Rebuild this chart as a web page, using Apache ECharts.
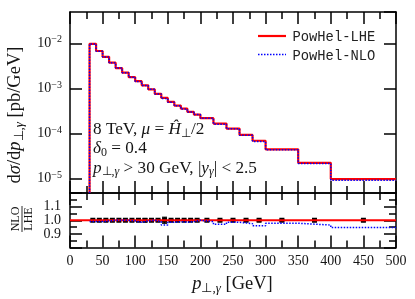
<!DOCTYPE html>
<html><head><meta charset="utf-8">
<script src="https://cdn.jsdelivr.net/npm/echarts@6/dist/echarts.min.js"></script>
<style>html,body{margin:0;padding:0;background:#fff}#c{width:415px;height:299px}</style>
</head><body><div id="c"></div>
<script>
// ---- data ----
const binEdges = [30,40,50,60,70,80,90,100,110,120,130,140,150,160,170,180,190,200,220,240,260,280,300,350,400,500];
const lheValues = [9.77e-3,6.76e-3,5.01e-3,3.72e-3,2.82e-3,2.24e-3,1.78e-3,1.45e-3,1.17e-3,9.55e-4,7.59e-4,6.17e-4,5.01e-4,4.17e-4,3.55e-4,3.02e-4,2.63e-4,2.19e-4,1.66e-4,1.29e-4,9.33e-5,6.92e-5,4.47e-5,2.24e-5,9.77e-6];
const nloValues = [9.67e-3,6.69e-3,4.98e-3,3.72e-3,2.82e-3,2.24e-3,1.77e-3,1.43e-3,1.16e-3,9.55e-4,7.51e-4,5.95e-4,4.93e-4,4.13e-4,3.50e-4,2.99e-4,2.63e-4,2.17e-4,1.61e-4,1.27e-4,9.10e-5,6.64e-5,4.37e-5,2.16e-5,9.25e-6];
const ratioNLO = [0.99,0.99,0.995,1.0,1.0,1.0,0.995,0.985,0.995,1.0,0.99,0.965,0.985,0.99,0.985,0.99,1.0,0.99,0.97,0.985,0.975,0.96,0.978,0.965,0.947];
const pointCenters = [35,45,55,65,75,85,95,105,115,125,135,145,155,165,175,185,195,210,230,250,270,290,325,375,450];
const pointValues = [1,1,1,1,1,1,1,1,1,1,1,1,1,1,1,1,1,1,1,1,1,1,1,1,1];
const pointErrors = [0.003,0.003,0.003,0.003,0.003,0.003,0.003,0.004,0.012,0.004,0.004,0.022,0.004,0.004,0.004,0.004,0.004,0.004,0.004,0.004,0.005,0.006,0.006,0.007,0.007];
const xTicks = [0,50,100,150,200,250,300,350,400,450,500];
const ratioTicks = [0.9,1.0,1.1];
const legendNames = ['PowHel-LHE', 'PowHel-NLO'];
const yLogMin = 4.8e-6, yLogMax = 0.0495;

// ---- helpers ----
function stepData(edges, vals, base) {
  const d = base !== undefined ? [[edges[0], base]] : [];
  vals.forEach((v, i) => d.push([edges[i], v]));
  d.push([edges[edges.length - 1], vals[vals.length - 1]]);
  return d;
}
const SERIF = 'Liberation Serif';
const TXT = '#151515';
const lineW = 1.5;
const RED = '#ff0000', BLUE = '#0000ff';
function frameX(grid, pos, labels) {
  return {
    type: 'value', gridIndex: grid, position: pos, min: 0, max: 500, interval: 50,
    axisLine: {show: true, onZero: false, lineStyle: {color: '#000', width: lineW}},
    axisTick: {show: true, inside: true, length: 12, lineStyle: {color: '#000', width: lineW}},
    minorTick: {show: true, splitNumber: 2, length: 7, lineStyle: {color: '#000', width: lineW}},
    splitLine: {show: false}, minorSplitLine: {show: false},
    axisLabel: labels ? {show: true, margin: 7, fontFamily: SERIF, fontSize: 14, color: TXT,
      formatter: v => xTicks.indexOf(v) >= 0 ? String(v) : ''} : {show: false}
  };
}
const supRich = {
  b: {fontFamily: SERIF, fontSize: 14, color: TXT, lineHeight: 17},
  s: {fontFamily: SERIF, fontSize: 10, color: TXT, verticalAlign: 'top', lineHeight: 10}
};
function logY(pos, labels) {
  return {
    type: 'log', gridIndex: 0, position: pos, min: yLogMin, max: yLogMax, logBase: 10,
    axisLine: {show: true, onZero: false, lineStyle: {color: '#000', width: lineW}},
    axisTick: {show: true, inside: true, length: 12, lineStyle: {color: '#000', width: lineW}},
    minorTick: {show: false}, splitLine: {show: false},
    axisLabel: labels ? {show: true, margin: 8, showMinLabel: false, showMaxLabel: false,
      formatter: v => {
        const e = Math.log10(v), r = Math.round(e);
        if (Math.abs(e - r) > 1e-6) return '';
        return '{b|10}{s|' + (r < 0 ? '\u2212' : '') + Math.abs(r) + '}';
      }, rich: supRich} : {show: false}
  };
}
function ratioY(pos, labels) {
  return {
    type: 'value', gridIndex: 1, position: pos, min: 0.8, max: 1.2, interval: 0.1,
    axisLine: {show: true, onZero: false, lineStyle: {color: '#000', width: lineW}},
    axisTick: {show: true, inside: true, length: 12, lineStyle: {color: '#000', width: lineW}},
    minorTick: {show: true, splitNumber: 2, length: 7, lineStyle: {color: '#000', width: lineW}},
    splitLine: {show: false}, minorSplitLine: {show: false},
    axisLabel: labels ? {show: true, margin: 9, fontFamily: SERIF, fontSize: 14, color: TXT,
      showMinLabel: false, showMaxLabel: false,
      formatter: v => ratioTicks.some(t => Math.abs(t - v) < 1e-6) ? v.toFixed(1) : ''} : {show: false}
  };
}

const chart = echarts.init(document.getElementById('c'), null, {renderer: 'canvas'});
function makeRich(fs) {
  const sfs = Math.round(fs * 0.7 * 2) / 2;
  return {
    i: {fontFamily: SERIF, fontStyle: 'italic', fontSize: fs, color: TXT, lineHeight: fs + 3},
    sub: {fontFamily: SERIF, fontSize: sfs, color: TXT, verticalAlign: 'bottom', lineHeight: sfs},
    isub: {fontFamily: SERIF, fontStyle: 'italic', fontSize: sfs, color: TXT, verticalAlign: 'bottom', lineHeight: sfs}
  };
}
function txt(x, y, text, fs, align, rot) {
  return {type: 'text', x: x, y: y, rotation: rot || 0, silent: true,
    style: {text: text, fontFamily: SERIF, fontSize: fs, fill: TXT, lineHeight: fs + 3,
      align: align || 'left', verticalAlign: 'middle', rich: makeRich(fs)}};
}
function legendItem(i, y) {
  const s = i === 0 ? {stroke: RED, lineWidth: 2.2} : {stroke: BLUE, lineWidth: 1.5, lineDash: [1.5, 1.5]};
  return [
    {type: 'line', silent: true, shape: {x1: 258, y1: y, x2: 286, y2: y}, style: s},
    {type: 'text', x: 292.5, y: y + 1.5, silent: true, style: {text: legendNames[i], fontFamily: 'Liberation Mono', fontSize: 13.8, fill: '#222', align: 'left', verticalAlign: 'middle'}}
  ];
}
const ANN = 17.2, TITLE = 18.5;

chart.setOption({
  animation: false,
  backgroundColor: '#fff',
  grid: [
    {left: 70, right: 19, top: 12, height: 181},
    {left: 70, right: 19, top: 193, height: 54.5}
  ],
  xAxis: [frameX(0, 'bottom', false), frameX(0, 'top', false), frameX(1, 'bottom', true), frameX(1, 'top', false)],
  yAxis: [logY('left', true), logY('right', false), ratioY('left', true), ratioY('right', false)],
  series: [
    {name: legendNames[0], type: 'line', xAxisIndex: 0, yAxisIndex: 0, step: 'end', symbol: 'none',
      data: stepData(binEdges, lheValues, yLogMin), lineStyle: {color: RED, width: 2.2}, itemStyle: {color: RED}},
    {name: legendNames[1], type: 'line', xAxisIndex: 0, yAxisIndex: 0, step: 'end', symbol: 'none',
      data: stepData(binEdges, nloValues, yLogMin), lineStyle: {color: BLUE, width: 1.5, type: [1.5, 1.5]}, itemStyle: {color: BLUE}},
    {name: 'ratio-LHE', type: 'line', xAxisIndex: 2, yAxisIndex: 2, symbol: 'none',
      data: [[0, 1], [500, 1]], lineStyle: {color: RED, width: 2}},
    {name: 'ratio-NLO', type: 'line', xAxisIndex: 2, yAxisIndex: 2, step: 'end', symbol: 'none',
      data: stepData(binEdges, ratioNLO), lineStyle: {color: BLUE, width: 1.5, type: [1.5, 1.5]}},
    {name: 'points', type: 'custom', xAxisIndex: 2, yAxisIndex: 2,
      data: pointCenters.map((x, i) => [x, pointValues[i], pointErrors[i]]),
      renderItem: (params, api) => {
        const x = api.value(0), y = api.value(1), e = api.value(2);
        const p = api.coord([x, y]), hi = api.coord([x, y + e]), lo = api.coord([x, y - e]);
        return {type: 'group', children: [
          {type: 'line', shape: {x1: p[0], y1: hi[1], x2: p[0], y2: lo[1]}, style: {stroke: '#000', lineWidth: 1.5}},
          {type: 'line', shape: {x1: p[0] - 2.5, y1: hi[1], x2: p[0] + 2.5, y2: hi[1]}, style: {stroke: '#000', lineWidth: 1.2}},
          {type: 'line', shape: {x1: p[0] - 2.5, y1: lo[1], x2: p[0] + 2.5, y2: lo[1]}, style: {stroke: '#000', lineWidth: 1.2}},
          {type: 'rect', shape: {x: p[0] - 2.5, y: p[1] - 2.5, width: 5, height: 5}, style: {fill: '#000'}}
        ]};
      }}
  ],
  graphic: [
    txt(93, 129.5, '8 TeV, {i|\u03bc} = {i|\u0124}{sub|\u22a5}/2', ANN),
    txt(93, 148.5, '{i|\u03b4}{sub|0} = 0.4', ANN),
    txt(93, 168, '{i|p}{sub|\u22a5,}{isub|\u03b3} > 30 GeV, |{i|y}{isub|\u03b3}| < 2.5', ANN),
    txt(232.5, 284, '{i|p}{sub|\u22a5,}{isub|\u03b3} [GeV]', TITLE, 'center'),
    txt(15, 115, 'd{i|\u03c3}/d{i|p}{sub|\u22a5,}{isub|\u03b3} [pb/GeV]', TITLE, 'center', Math.PI / 2),
    {type: 'group', x: 22, y: 219, rotation: Math.PI / 2, silent: true, children: [
      {type: 'text', x: 0, y: -6.5, style: {text: 'NLO', fontFamily: SERIF, fontSize: 12, fill: TXT, align: 'center', verticalAlign: 'middle'}},
      {type: 'line', shape: {x1: -13, y1: 0, x2: 13, y2: 0}, style: {stroke: TXT, lineWidth: 0.9}},
      {type: 'text', x: 0, y: 7, style: {text: 'LHE', fontFamily: SERIF, fontSize: 12, fill: TXT, align: 'center', verticalAlign: 'middle'}}
    ]}
  ].concat(legendItem(0, 36), legendItem(1, 54.5))
});
</script></body></html>
